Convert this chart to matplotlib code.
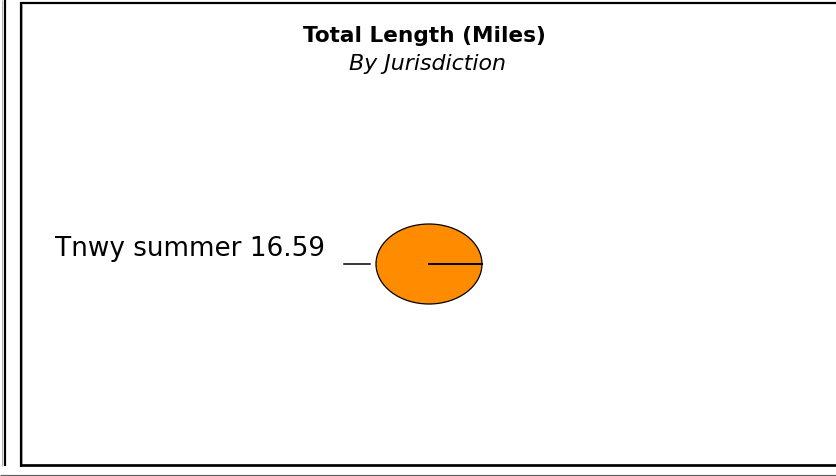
import matplotlib
matplotlib.use("Agg")
import matplotlib.pyplot as plt
from matplotlib.lines import Line2D

# ---- data ----
categories = ["Tnwy summer"]
values = [16.59]
colors = ["#FF8C00"]
title = "Total Length (Miles)"
subtitle = "By Jurisdiction"

W, H = 837, 476
fig = plt.figure(figsize=(W / 100, H / 100), dpi=100)
fig.patch.set_facecolor("white")

def fx(px):
    return px / W

def fy(py):
    return 1 - py / H

def fline(x0, y0, x1, y1, color="black", lw_px=2.0):
    fig.add_artist(Line2D([fx(x0), fx(x1)], [fy(y0), fy(y1)], transform=fig.transFigure,
                          color=color, lw=lw_px * 0.72, solid_capstyle="butt"))

# ---- borders ----
fline(2.0, 0, 2.0, 466, color="#b0b0b0", lw_px=1)
fline(4.5, 0, 4.5, 466, lw_px=2.2)
fline(21, 2, 21, 466.7, lw_px=2.2)
fline(22.5, 4, 22.5, 464, color="#a0a0a0", lw_px=1)
fline(20, 3, 837, 3, lw_px=2.2)
fline(20, 465.3, 837, 465.3, lw_px=2.7)
fline(836.3, 4, 836.3, 464, color="#b0b0b0", lw_px=1)
fline(0, 474.5, 837, 474.5, color="#606060", lw_px=1.2)

# ---- titles ----
fig.text(fx(424.5), fy(42), title, ha="center", va="baseline",
         fontsize=15.6, fontweight="bold", family="DejaVu Sans")
fig.text(fx(428), fy(70), subtitle, ha="center", va="baseline",
         fontsize=15.9, style="italic", family="DejaVu Sans")

# ---- pie ----
cx, cy = 429, 264       # pixel centre
rx, ry = 53, 40         # pixel radii
ax = fig.add_axes([0, 0, 1, 1])
labels = [f"{c} {v}" for c, v in zip(categories, values)]
wedges, texts = ax.pie(values, colors=colors, startangle=0, counterclock=True,
                       labels=labels, labeldistance=1.96,
                       wedgeprops=dict(edgecolor="black", linewidth=0.9),
                       textprops=dict(fontsize=18.9, family="DejaVu Sans"))
ax.set_aspect("auto")
ax.set_xlim((0 - cx) / rx, (W - cx) / rx)
ax.set_ylim((cy - H) / ry, cy / ry)
ax.axis("off")
for t in texts:
    x, y = t.get_position()
    t.set_position((x, y + 15 / ry))
    t.set_ha("right")
    t.set_va("center")
# radial edge of the full slice and leader line
ax.plot([0, 1], [0, 0], color="black", lw=1.4)
ax.plot([-1.60, -1.11], [0, 0], color="black", lw=1.1)

fig.savefig("out.png", dpi=100, facecolor="white")
